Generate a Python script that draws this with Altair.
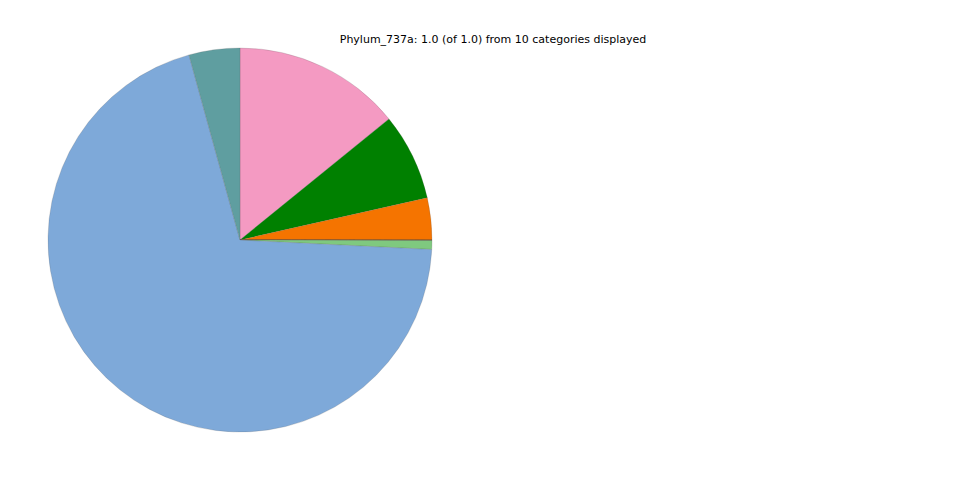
import altair as alt
import pandas as pd

categories = ["Cat_A", "Cat_B", "Cat_C", "Cat_D", "Cat_E", "Cat_F", "Cat_G", "Cat_H", "Cat_I", "Cat_J"]
values = [0.1414, 0.0733, 0.0353, 0.0001, 0.0001, 0.0001, 0.0001, 0.0075, 0.6993, 0.0428]
colors = ["#f49ac2", "#008000", "#f57400", "#4b0082", "#8b4513", "#2f4f4f", "#800000", "#7fc97f", "#7ea9d9", "#5f9ea0"]
order = list(range(len(categories)))

df = pd.DataFrame({"category": categories, "value": values, "order": order})

pie = alt.Chart(df).mark_arc(radius=192, stroke="#555555", strokeWidth=0.2).encode(
    theta=alt.Theta("value:Q", stack=True),
    order=alt.Order("order:Q"),
    color=alt.Color("category:N", scale=alt.Scale(domain=categories, range=colors), legend=None),
    x=alt.value(232),
    y=alt.value(232),
)

title = alt.Chart(pd.DataFrame({"t": ["Phylum_737a: 1.0 (of 1.0) from 10 categories displayed"]})).mark_text(
    font="DejaVu Sans", fontSize=11, color="black", align="center", baseline="middle"
).encode(text="t:N", x=alt.value(485), y=alt.value(32))

chart = alt.layer(pie, title).properties(
    width=944, height=460, autosize=alt.AutoSizeParams(type="none"), padding=0
).configure(background="white").configure_view(stroke=None, strokeWidth=0)

chart.save("out.html", embed_options={"renderer": "svg", "actions": False})
